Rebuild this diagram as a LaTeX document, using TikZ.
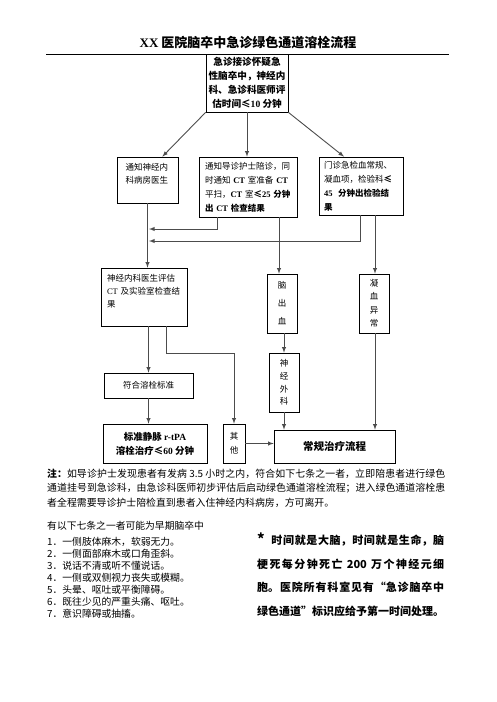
\documentclass[tikz,border=0pt]{standalone}
\usepackage{fontspec}
\setmainfont{Noto Sans CJK SC}
\newfontfamily\lat{Liberation Serif}
\newcommand\en[1]{{\lat #1}}
\XeTeXlinebreaklocale "zh"
\XeTeXlinebreakskip=0pt plus 1pt minus 0.3pt
\tikzset{
  cell/.style={draw, line width=0.7pt, inner sep=0pt, font=\fontsize{8.5}{13.5}\selectfont},
  link/.style={draw=black!70, line width=0.9pt, ->},
}
\begin{document}
\begin{tikzpicture}[x=1pt,y=-1pt,>=latex]
\useasboundingbox (0,0) rectangle (496,702);
% title and rule
\node[font=\bfseries\fontsize{13}{15}\selectfont] (title) at (248,43) {\en{XX} 医院脑卒中急诊绿色通道溶栓流程};
\draw[line width=0.8pt] (46,54) -- (449,54);

% boxes
\node[cell, align=center, font=\bfseries\fontsize{9.6}{14}\selectfont, minimum width=82pt, minimum height=58pt] (top) at (247,83) {急诊接诊怀疑急\\性脑卒中，神经内\\科、急诊科医师评\\估时间≤\en{10} 分钟};
\node[cell, align=left, text width=44pt, minimum width=61pt, minimum height=46pt] (notify) at (147.5,180) {通知神经内\\科病房医生\\~};
\node[cell, align=left, text width=86pt, minimum width=98pt, minimum height=60pt, font=\fontsize{8.5}{14}\selectfont] (ct) at (248,187) {通知导诊护士陪诊，同\\时通知 \textbf{\en{CT}} 室准备 \textbf{\en{CT}}\\平扫，\textbf{\en{CT}} 室\textbf{≤\en{25} 分钟}\\\textbf{出 \en{CT} 检查结果}};
\node[cell, align=left, text width=74pt, minimum width=84pt, minimum height=58pt, font=\fontsize{8.5}{14}\selectfont] (lab) at (361,186) {门诊急检血常规、\\凝血项，检验科\textbf{≤}\\\textbf{\en{45}\ \ 分钟出检验结}\\\textbf{果}};
\node[cell, align=left, text width=74pt, minimum width=86pt, minimum height=58pt, font=\fontsize{8.5}{13}\selectfont] (eval) at (144,297) {神经内科医生评估\\\en{CT} 及实验室检查结\\果\\~};
\node[cell, align=center, minimum width=30pt, minimum height=59pt, font=\fontsize{8.5}{18}\selectfont] (bleed) at (282,303.5) {脑\\出\\血};
\node[cell, align=center, minimum width=30pt, minimum height=59pt] (coag) at (374,303.5) {凝\\血\\异\\常};
\node[cell, align=center, minimum width=30pt, minimum height=59pt, font=\fontsize{8.5}{12.7}\selectfont] (neuro) at (284,382.5) {神\\经\\外\\科};
\node[cell, minimum width=89pt, minimum height=25pt] (meet) at (148.5,385.5) {符合溶栓标准};
\node[cell, align=center, minimum width=104pt, minimum height=39pt, font=\bfseries\fontsize{9.5}{14}\selectfont] (tpa) at (155,443.5) {标准静脉 \en{r-tPA}\\溶栓治疗≤\en{60} 分钟};
\node[cell, align=center, minimum width=22pt, minimum height=39pt, font=\fontsize{8.5}{14}\selectfont] (other) at (234,443.5) {其\\他};
\node[cell, minimum width=121pt, minimum height=33pt, font=\bfseries\fontsize{10.5}{12}\selectfont] (routine) at (334.5,446.5) {常规治疗流程};

% connectors
\coordinate (j1) at (149,229);
\coordinate (j2) at (149,241);
\draw[link] (top.south west) -- ([xshift=-16pt]notify.north east);
\draw[link] (top.south) -- (top.south |- ct.north);
\draw[link] (top.south east) -- ([xshift=-17pt]lab.north);
\draw[link] (notify) -- (notify |- eval.north);
\draw[link] ([xshift=-31pt]ct.south) |- (j1);
\draw[link] ([xshift=-1pt]lab.south) |- (j2);
\draw[link] ([xshift=31pt]ct.south) -- ([xshift=-3pt]bleed.north);
\draw[link] ([xshift=14pt]lab.south) -- ([xshift=1pt]coag.north);
\draw[link] ([xshift=2pt]bleed.south) -- (neuro.north);
\draw[link] ([xshift=4.5pt]eval.south) -- (meet);
\draw[link] ([xshift=22pt]eval.south) -- ++(0,27) -| (other.north);
\draw[link] (meet) -- (meet |- tpa.north);
\draw[link] (neuro) -- (neuro |- routine.north);
\draw[link] ([xshift=1pt]coag.south) -- ([xshift=1pt]coag.south |- routine.north);
\draw[link] (other) -- (other -| routine.west);

% notes
\node[anchor=north west, inner sep=0pt, text width=398pt, align=justify, font=\fontsize{9.9}{14.2}\selectfont] (note) at (47,469) {\textbf{注：}如导诊护士发现患者有发病 3.5 小时之内，符合如下七条之一者，立即陪患者进行绿色\linebreak 通道挂号到急诊科，由急诊科医师初步评估后启动绿色通道溶栓流程；进入绿色通道溶栓患\linebreak 者全程需要导诊护士陪检直到患者入住神经内科病房，方可离开。};
\node[anchor=north west, inner sep=0pt, align=left, font=\fontsize{9.8}{12}\selectfont] (signs) at (47,521) {有以下七条之一者可能为早期脑卒中\\[4pt]1．一侧肢体麻木，软弱无力。\\2．一侧面部麻木或口角歪斜。\\3．说话不清或听不懂说话。\\4．一侧或双侧视力丧失或模糊。\\5．头晕、呕吐或平衡障碍。\\6．既往少见的严重头痛、呕吐。\\7．意识障碍或抽搐。};
\node[anchor=north west, inner sep=0pt, text width=187pt, align=justify, font=\bfseries\fontsize{11}{23.5}\selectfont] (motto) at (257,533) {{\Large *}\ \ 时间就是大脑，时间就是生命，脑\linebreak 梗死每分钟死亡 200 万个神经元细\linebreak 胞。医院所有科室见有“急诊脑卒中\linebreak 绿色通道”标识应给予第一时间处理。};
\end{tikzpicture}
\end{document}
